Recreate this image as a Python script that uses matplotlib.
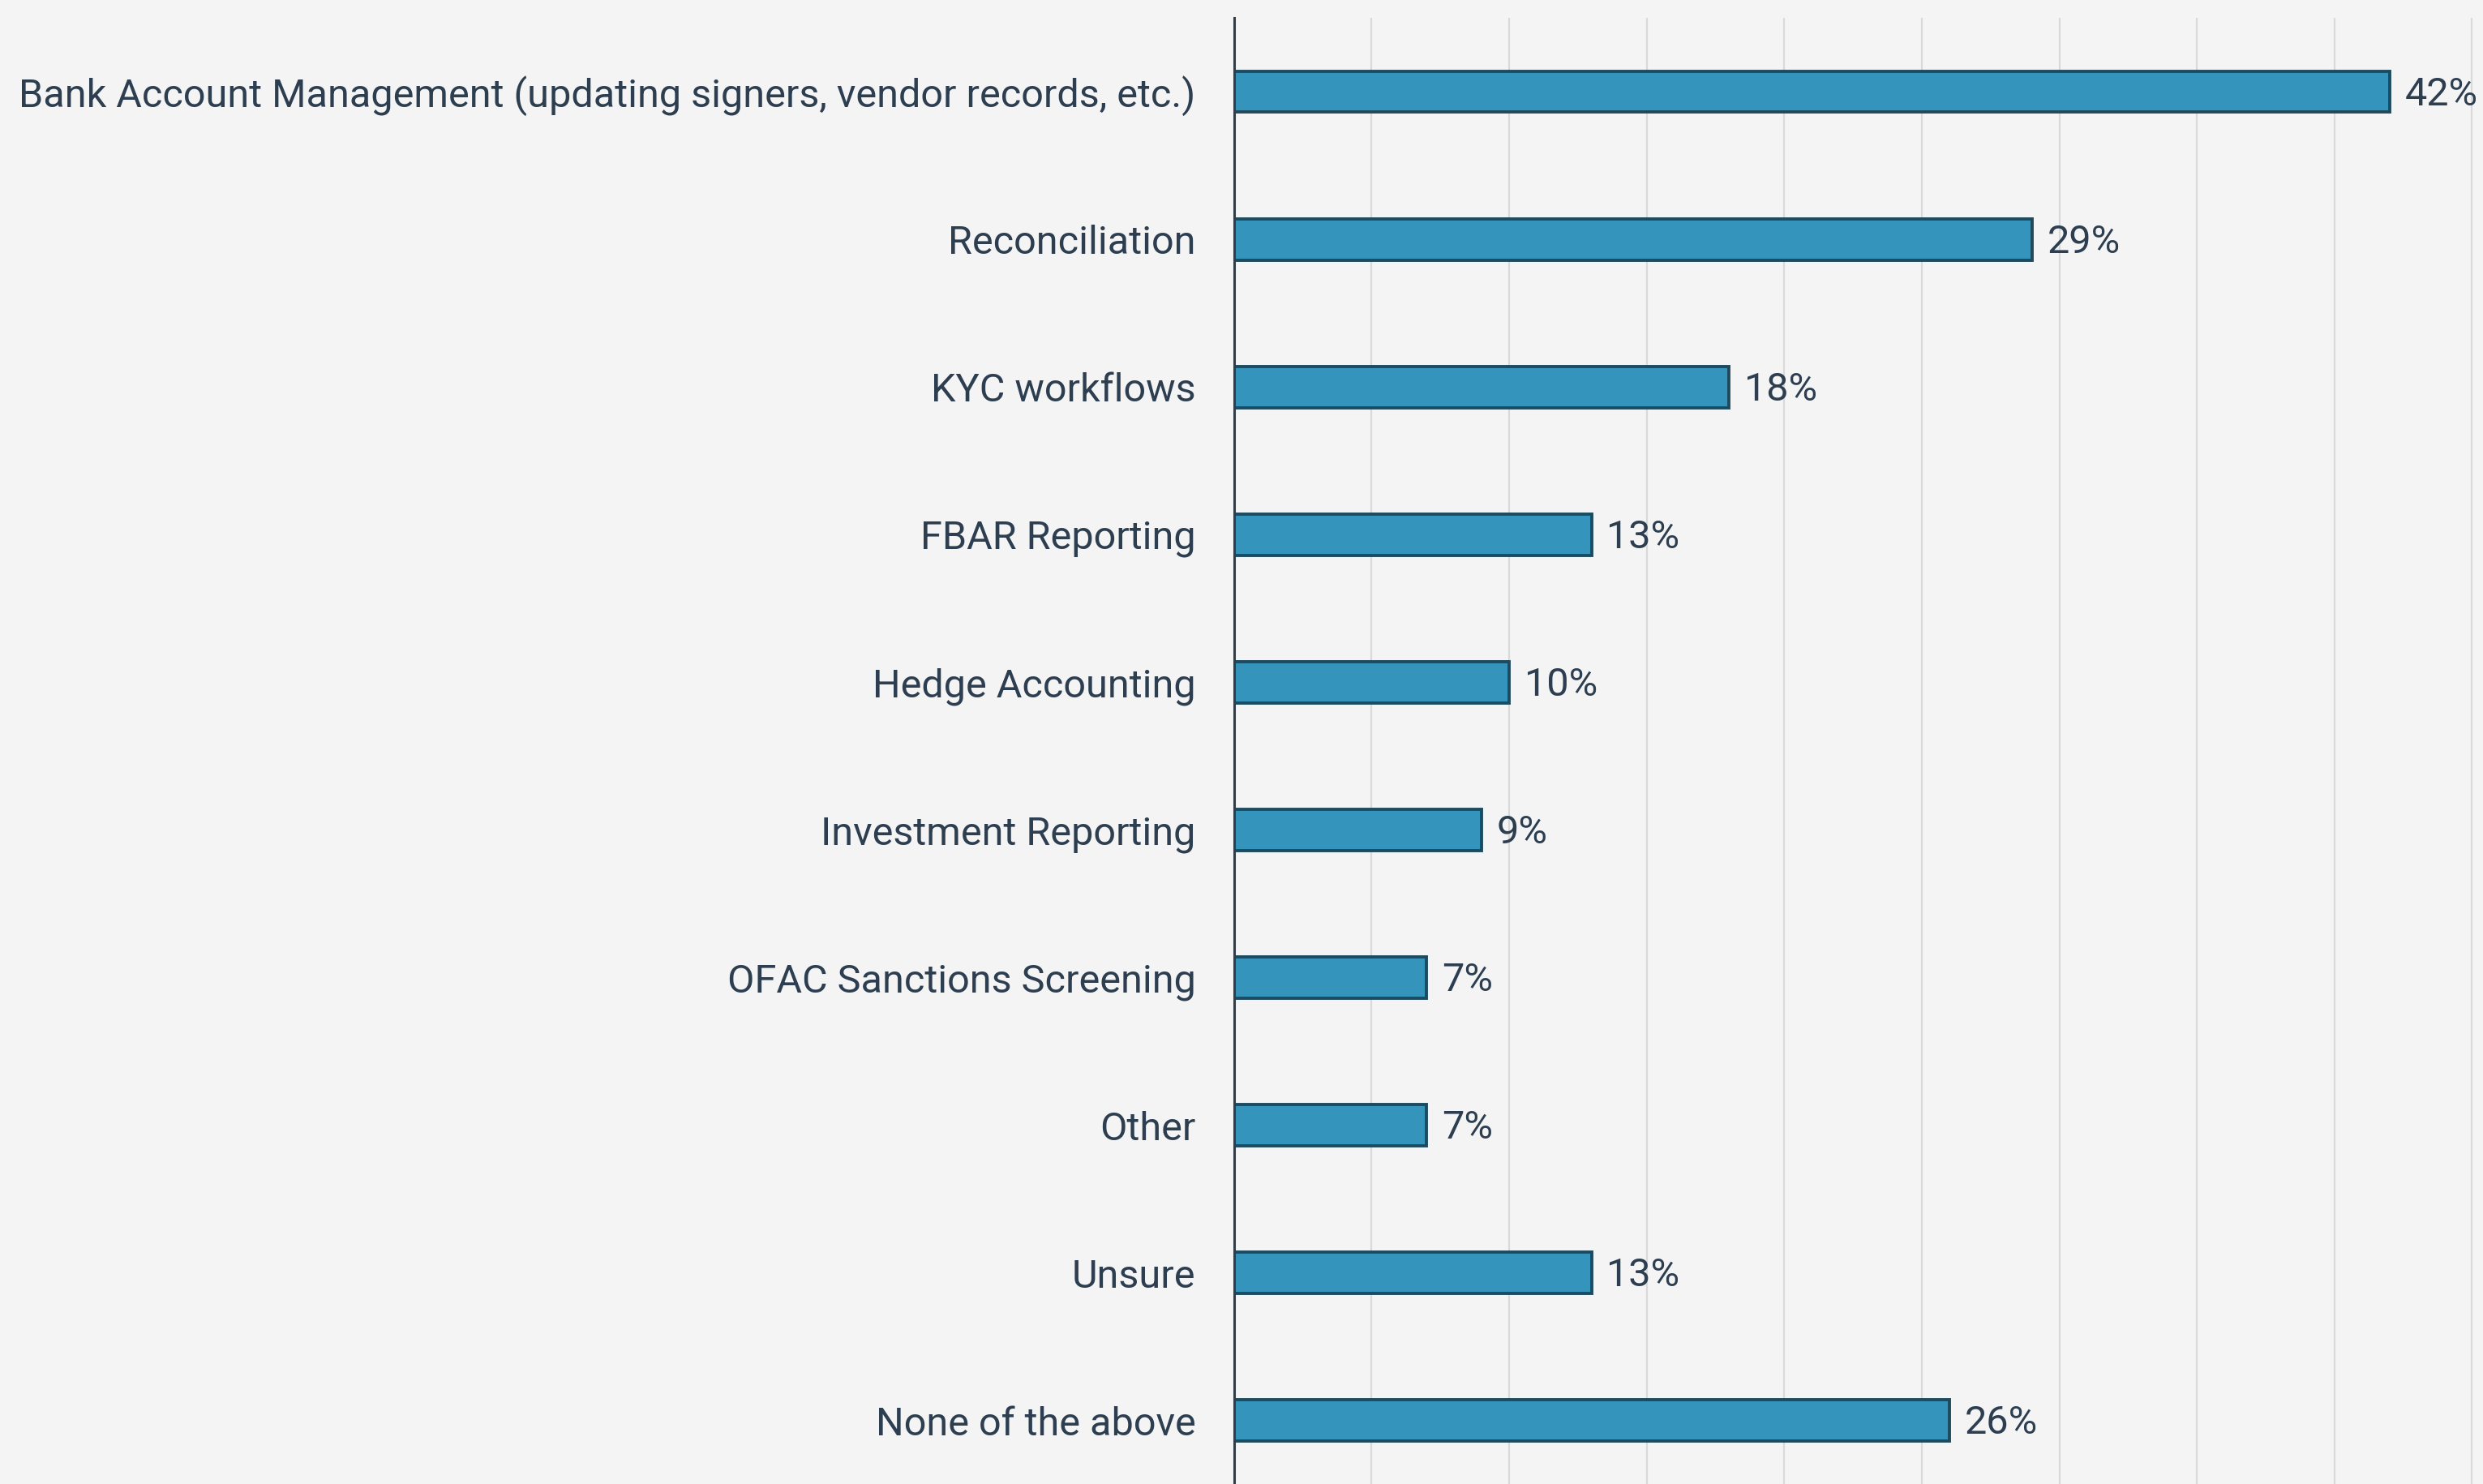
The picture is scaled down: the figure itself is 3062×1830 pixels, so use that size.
import matplotlib.pyplot as plt

plt.rcParams['font.family'] = ['Roboto', 'DejaVu Sans']

categories = [
    "Bank Account Management (updating signers, vendor records, etc.)",
    "Reconciliation",
    "KYC workflows",
    "FBAR Reporting",
    "Hedge Accounting",
    "Investment Reporting",
    "OFAC Sanctions Screening",
    "Other",
    "Unsure",
    "None of the above",
]
values = [42, 29, 18, 13, 10, 9, 7, 7, 13, 26]

bg = "#f4f4f4"
text_color = "#2c3e50"
bar_color = "#3594bb"
edge_color = "#1f4a5e"

fig = plt.figure(figsize=(15.31, 9.15), dpi=200, facecolor=bg)
ax = fig.add_axes([0.497, 0.0, 0.503, 0.988], facecolor=bg)

y = list(range(len(categories)))
bars = ax.barh(y, values, height=0.28, color=bar_color,
               edgecolor=edge_color, linewidth=1.4, zorder=3)

# value labels just right of each bar
for b, v in zip(bars, values):
    ax.text(b.get_width() + 0.55, b.get_y() + b.get_height() / 2 + 0.02, f"{v}%",
            va="center", ha="left", fontsize=17.5, color=text_color)

ax.set_xlim(0, 45.4)
ax.set_ylim(9.43, -0.5)
ax.set_xticks(range(5, 46, 5))
ax.set_xticklabels([])
ax.tick_params(axis="x", length=0)
ax.grid(axis="x", color="#d9d9d9", linewidth=0.8, zorder=0)

ax.set_yticks(y)
ax.set_yticklabels(categories, fontsize=17.5, color=text_color)
ax.tick_params(axis="y", length=0, pad=17)

for side in ["top", "right", "bottom"]:
    ax.spines[side].set_visible(False)
ax.spines["left"].set_color(text_color)
ax.spines["left"].set_linewidth(1.1)
ax.spines["left"].set_zorder(4)

fig.savefig("out.png", dpi=200, facecolor=bg)
